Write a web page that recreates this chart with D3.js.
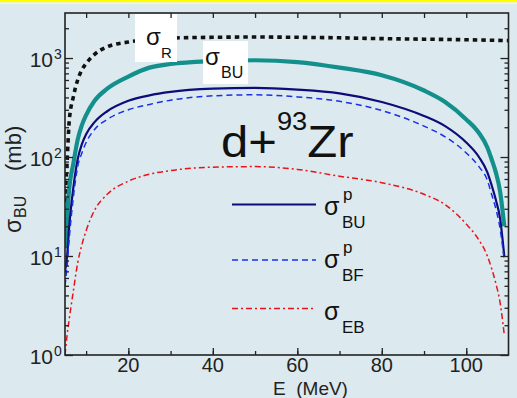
<!DOCTYPE html>
<html>
<head>
<meta charset="utf-8">
<script src="https://cdn.jsdelivr.net/npm/d3@7"></script>
<style>
  html, body { margin: 0; padding: 0; background: #dce9ee; }
  svg { display: block; font-family: Arial, "Liberation Sans", sans-serif; }
</style>
</head>
<body>
<svg id="chart" width="517" height="398"></svg>
<script>
// energies (MeV) for the breakup curves
const energy = [5, 5.5, 6, 7, 8, 9, 10, 12, 15, 20, 25, 30, 40, 50, 60, 70, 80, 90, 95, 100, 103, 105, 106, 107, 108, 109];
// sigma_BU total (teal)
const sigBU  = [12, 25, 48, 87, 150, 210, 265, 370, 490, 650, 800, 870, 930, 950, 910, 800, 670, 470, 360, 240, 175, 125, 95, 70, 45, 20];
// sigma_BU^p (navy solid)
const sigBUp = [7, 10, 20, 50, 95, 135, 170, 225, 290, 370, 420, 455, 490, 500, 480, 440, 360, 260, 205, 140, 100, 70, 52, 37, 24, 10];
// sigma_BF^p (blue dashed)
const sigBFp = [5, 8, 15, 40, 80, 110, 140, 190, 240, 300, 340, 375, 415, 425, 405, 365, 295, 205, 160, 110, 80, 58, 42, 30, 19, 9];
// sigma_EB (red dash-dot)
const sigEB  = [1.0, 1.6, 2.3, 4.5, 8.5, 13, 18, 29, 42, 57, 67, 73, 79, 80, 75, 64, 55, 42, 33, 21, 14.5, 10, 7.5, 5.3, 3.4, 1.6];
// reaction cross section sigma_R (black dotted)
const energyR = [5, 5.5, 6, 7, 8, 9, 10, 12, 15, 20, 25, 30, 40, 50, 60, 70, 80, 90, 100, 110];
const sigR    = [35, 90, 230, 410, 600, 760, 880, 1090, 1300, 1450, 1540, 1590, 1620, 1630, 1620, 1600, 1570, 1550, 1530, 1500];

const xTicks = [20, 40, 60, 80, 100];
const yTicks = [1, 10, 100, 1000];

const svg = d3.select("#chart");
const pLeft = 65, pRight = 508.5, pTop = 13, pBottom = 355;

// top yellow strip
svg.append("rect").attr("x", 0).attr("y", 0).attr("width", 517).attr("height", 2.5).attr("fill", "#ffff00");
svg.append("rect").attr("x", 0).attr("y", 2.5).attr("width", 517).attr("height", 1.5).attr("fill", "#eef4f6");

const x = d3.scaleLinear().domain([5, 110]).range([pLeft, pRight]);
const y = d3.scaleLog().domain([1, 2850]).range([pBottom, pTop]);

svg.append("clipPath").attr("id", "clip")
  .append("rect").attr("x", pLeft).attr("y", pTop).attr("width", pRight - pLeft).attr("height", pBottom - pTop);

const plot = svg.append("g").attr("clip-path", "url(#clip)");

const line = d3.line().curve(d3.curveMonotoneX).x(d => x(d[0])).y(d => y(d[1]));
const zip = (a, b) => a.map((v, i) => [v, b[i]]);

const series = [
  {data: zip(energyR, sigR), color: "#111111", width: 3.6, dash: "4.5,4"},
  {data: zip(energy, sigBU), color: "#13908c", width: 4.2, dash: null},
  {data: zip(energy, sigBUp), color: "#0c0c7a", width: 2.2, dash: null},
  {data: zip(energy, sigBFp), color: "#1a30e8", width: 1.5, dash: "6,4"},
  {data: zip(energy, sigEB), color: "#e8141c", width: 1.5, dash: "6,3,2,3"}
];

series.forEach(s => {
  plot.append("path")
    .attr("d", line(s.data))
    .attr("fill", "none")
    .attr("stroke", s.color)
    .attr("stroke-width", s.width)
    .attr("stroke-dasharray", s.dash);
});

// white label boxes
svg.append("rect").attr("x", 135).attr("y", 14).attr("width", 42).attr("height", 48).attr("fill", "#ffffff");
svg.append("rect").attr("x", 203).attr("y", 41).attr("width", 45).attr("height", 43).attr("fill", "#ffffff");

function sigmaLabel(g, xs, base, sub, sup, size, subSize, subDx) {
  g.append("text").attr("x", xs).attr("y", base).attr("fill", "#111").style("font-size", size + "px").text("σ");
  if (sup) {
    g.append("text").attr("x", xs + subDx + 1).attr("y", base - 15).attr("fill", "#111")
      .style("font-size", subSize + "px").text(sup);
  }
  g.append("text").attr("x", xs + subDx).attr("y", base + 13).attr("fill", "#111")
    .style("font-size", subSize + "px").text(sub);
}

sigmaLabel(svg, 146, 45, "R", null, 24, 15, 15);
sigmaLabel(svg, 205, 65, "BU", null, 24, 16, 16);

// title d+93Zr
const title = svg.append("text").attr("transform", "translate(221,157) scale(1.09,1)")
  .attr("fill", "#111").style("font-size", "45px");
title.append("tspan").text("d+");
title.append("tspan").attr("dy", -27).style("font-size", "25px").text("93");
title.append("tspan").attr("dy", 27).text("Zr");

// legend
const legend = [
  {y: 204.5, color: "#0c0c7a", width: 2.2, dash: null, sub: "BU", sup: "p", base: 215},
  {y: 260, color: "#1a30e8", width: 1.5, dash: "6,4", sub: "BF", sup: "p", base: 268},
  {y: 308.5, color: "#e8141c", width: 1.5, dash: "6,3,2,3", sub: "EB", sup: null, base: 320}
];
legend.forEach(l => {
  svg.append("line").attr("x1", 232).attr("x2", 316).attr("y1", l.y).attr("y2", l.y)
    .attr("stroke", l.color).attr("stroke-width", l.width).attr("stroke-dasharray", l.dash);
  sigmaLabel(svg, 324, l.base, l.sub, l.sup, 25, 17, 18);
});

// axes with inward ticks
const axisCol = "#222";
function styleAxis(g) {
  g.select(".domain").remove();
  g.selectAll("line").attr("stroke", axisCol).attr("stroke-width", 1.3);
}
const xMinor = d3.range(10, 110, 10);
svg.append("g").attr("transform", `translate(0,${pBottom})`)
  .call(d3.axisBottom(x).tickValues(xMinor).tickSize(-4).tickFormat("")).call(styleAxis);
svg.append("g").attr("transform", `translate(0,${pBottom})`)
  .call(d3.axisBottom(x).tickValues(xTicks).tickSize(-7).tickFormat("")).call(styleAxis);
svg.append("g").attr("transform", `translate(0,${pTop})`)
  .call(d3.axisTop(x).tickValues(xMinor).tickSize(-5).tickFormat("")).call(styleAxis);

const yMinor = [];
[1, 10, 100, 1000].forEach(p => { for (let k = 2; k <= 9; k++) if (p * k <= 2850) yMinor.push(p * k); });
[[pLeft, d3.axisLeft], [pRight, d3.axisRight]].forEach(([px, ax]) => {
  svg.append("g").attr("transform", `translate(${px},0)`)
    .call(ax(y).tickValues(yMinor).tickSize(-4).tickFormat("")).call(styleAxis);
  svg.append("g").attr("transform", `translate(${px},0)`)
    .call(ax(y).tickValues(yTicks).tickSize(-8).tickFormat("")).call(styleAxis);
});

// frame
svg.append("rect").attr("x", pLeft).attr("y", pTop).attr("width", pRight - pLeft).attr("height", pBottom - pTop)
  .attr("fill", "none").attr("stroke", axisCol).attr("stroke-width", 1.6);

// tick labels
svg.selectAll(".xl").data(xTicks).enter().append("text")
  .attr("x", d => x(d)).attr("y", 372).attr("text-anchor", "middle")
  .attr("fill", "#222").style("font-size", "20px").text(d => d);

yTicks.forEach(v => {
  const exp = Math.round(Math.log10(v));
  svg.append("text").attr("x", 53).attr("y", y(v) + 9).attr("text-anchor", "end")
    .attr("fill", "#222").style("font-size", "21px").text("10");
  svg.append("text").attr("x", 54).attr("y", y(v) + 1).attr("fill", "#222")
    .style("font-size", "14px").text(exp);
});

// axis titles
svg.append("text").attr("x", 273).attr("y", 395).attr("fill", "#222")
  .style("font-size", "19px").attr("xml:space", "preserve").text("E  (MeV)");

const yl = svg.append("g").attr("transform", "translate(21,233) rotate(-90)");
yl.append("text").attr("x", 0).attr("y", 0).attr("fill", "#222").style("font-size", "23px").text("σ");
yl.append("text").attr("x", 15).attr("y", 5).attr("fill", "#222").style("font-size", "16px").text("BU");
yl.append("text").attr("x", 62).attr("y", 0).attr("fill", "#222").style("font-size", "22px").text("(mb)");
</script>
</body>
</html>
